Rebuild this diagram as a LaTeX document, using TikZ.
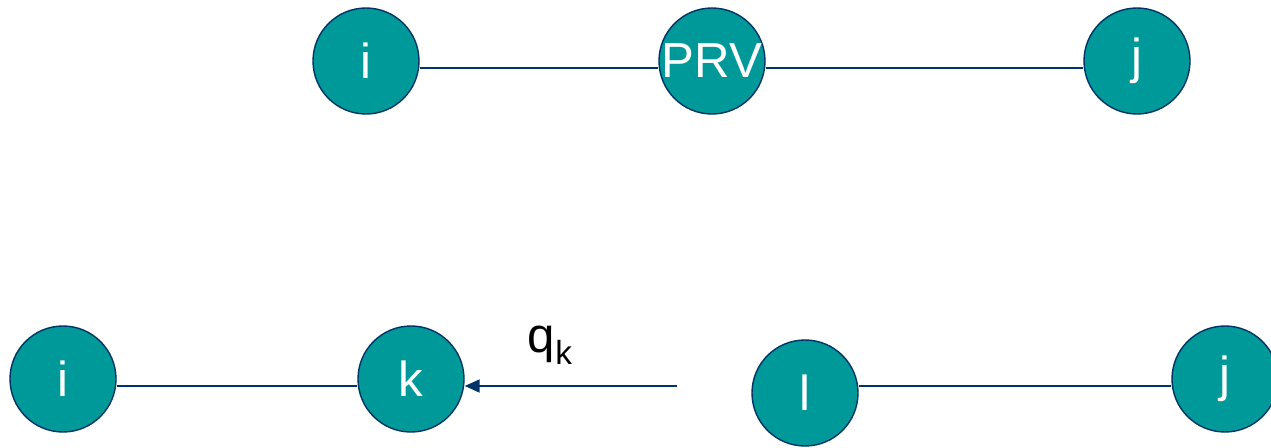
\documentclass[tikz,border=0pt]{standalone}
\usepackage{fontspec}
\setmainfont{Liberation Sans}
\definecolor{tealfill}{RGB}{0,153,153}
\definecolor{darkblue}{RGB}{0,51,102}
\usetikzlibrary{arrows.meta, positioning, calc}

\begin{document}
\begin{tikzpicture}[
    vnode/.style={circle, draw=darkblue, line width=0.8pt, fill=tealfill, minimum size=2.12cm, inner sep=0pt, text=white, font=\fontsize{28}{32}\selectfont},
    edge/.style={draw=darkblue, line width=1.1pt},
    >={Triangle[length=3mm, width=2.6mm]}
]
  \useasboundingbox (0,0) rectangle (25.42,8.94);

  % top row
  \node[vnode] (ti) at (7.32, 7.72) {i};
  \node[vnode] (prv) at (14.24, 7.72) {PRV};
  \node[vnode] (tj) at (22.74, 7.72) {j};

  \draw[edge] ([yshift=-1.4mm]ti.east) -- ([yshift=-1.4mm]prv.west);
  \draw[edge] ([yshift=-1.4mm]prv.east) -- ([yshift=-1.4mm]tj.west);

  % bottom row
  \node[vnode] (bi) at (1.26, 1.36) {i};
  \node[vnode] (k) at (8.22, 1.36) {k};
  \node[vnode] (l) at (16.10, 1.08) {l};
  \node[vnode] (bj) at (24.50, 1.36) {j};

  \draw[edge] ([yshift=-1.4mm]bi.east) -- ([yshift=-1.4mm]k.west);
  \draw[edge] ([yshift=1.4mm]l.east) -- ([yshift=-1.4mm]bj.west);

  \coordinate (qstart) at (13.54, 1.22);
  \draw[edge, ->] (qstart) -- ([yshift=-1.4mm]k.east);
  \node[font=\fontsize{28}{32}\selectfont] (qk) at (11.0, 2.04) {q\raisebox{-0.25em}{\fontsize{19}{22}\selectfont k}};
\end{tikzpicture}
\end{document}
